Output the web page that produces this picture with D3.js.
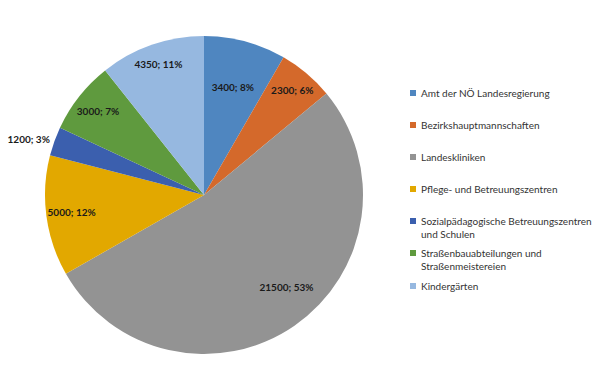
<!DOCTYPE html>
<html><head><meta charset="utf-8">
<script src="https://cdn.jsdelivr.net/npm/d3@7"></script>
<style>body{margin:0;background:#fff}svg{display:block;font-family:Lato,Calibri,sans-serif}</style>
</head><body><svg id="c" width="600" height="391"></svg>
<script>
const categories = ["Amt der NÖ Landesregierung","Bezirkshauptmannschaften","Landeskliniken","Pflege- und Betreuungszentren","Sozialpädagogische Betreuungszentren und Schulen","Straßenbauabteilungen und Straßenmeistereien","Kindergärten"];
const legendLines = [["Amt der NÖ Landesregierung"],["Bezirkshauptmannschaften"],["Landeskliniken"],["Pflege- und Betreuungszentren"],["Sozialpädagogische Betreuungszentren","und Schulen"],["Straßenbauabteilungen und","Straßenmeistereien"],["Kindergärten"]];
const values = [3400,2300,21500,5000,1200,3000,4350];
const percentLabels = ["8%","6%","53%","12%","3%","7%","11%"];
const colors = ["#4f86c0","#d4692b","#939393","#e2a800","#3b5fae","#5f9a3e","#96b8e0"];

const svg = d3.select("#c");
const cx = 204, cy = 195, r = 159;
const pie = d3.pie().sort(null).value(d=>d)(values);
const arc = d3.arc().innerRadius(0).outerRadius(r);
const g = svg.append("g").attr("transform",`translate(${cx},${cy})`);
g.selectAll("path").data(pie).enter().append("path")
  .attr("d",arc).attr("fill",(d,i)=>colors[i]);

// label placement (Excel "best fit" approximation)
const labelFactor = [0.70,0.86,0.78,0.84,1.03,0.85,0.87];
const angleShift = [0,0,-7,0,0,0,0].map(d=>d*Math.PI/180);
g.selectAll("text").data(pie).enter().append("text")
  .attr("transform",(d,i)=>{
    const a=(d.startAngle+d.endAngle)/2+angleShift[i], rr=r*labelFactor[i];
    return `translate(${Math.sin(a)*rr},${-Math.cos(a)*rr})`;})
  .attr("text-anchor",(d,i)=>i===4?"end":"middle")
  .attr("dy","0.35em")
  .attr("font-size",10).attr("font-weight","bold").attr("fill","#1a1a1a")
  .text((d,i)=>`${values[i]}; ${percentLabels[i]}`);

const rowY = [93,125,157,189,221,253,286];
const lg = svg.append("g");
legendLines.forEach((lines,i)=>{
  lg.append("rect").attr("x",410).attr("y",rowY[i]-3).attr("width",6).attr("height",6).attr("fill",colors[i]);
  lines.forEach((t,j)=>{
    lg.append("text").attr("x",421).attr("y",rowY[i]+j*13).attr("dy","0.35em")
      .attr("font-size",10).attr("fill","#333").text(t);
  });
});
</script></body></html>
